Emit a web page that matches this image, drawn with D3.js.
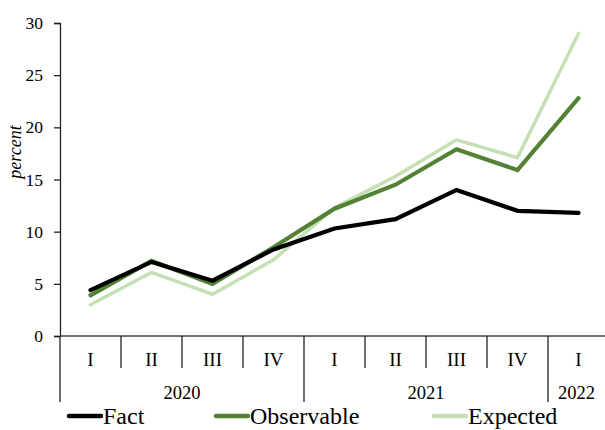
<!DOCTYPE html>
<html><head><meta charset="utf-8">
<script src="https://cdn.jsdelivr.net/npm/d3@7"></script>
<style>
html,body{margin:0;padding:0;background:#fff;}
svg{display:block;}
</style></head>
<body><svg id="c" width="605" height="430"></svg>
<script>
const quarters = ["I","II","III","IV","I","II","III","IV","I"];
const years = [{label:"2020",start:0,end:4},{label:"2021",start:4,end:8},{label:"2022",start:8,end:9}];
const fact = [4.4, 7.1, 5.3, 8.3, 10.3, 11.2, 14.0, 12.0, 11.8];
const observable = [3.9, 7.2, 5.0, 8.5, 12.2, 14.5, 17.9, 15.9, 22.8];
const expected = [3.0, 6.1, 4.0, 7.3, 12.3, 15.3, 18.8, 17.1, 29.0];
const yTicks = [0,5,10,15,20,25,30];
const seriesNames = ["Fact","Observable","Expected"];
const colors = ["#000000","#548235","#c5e0b4"];

(function(){
const FF = "Liberation Serif";
const svg = d3.select("#c").attr("font-family", FF);
const mLeft = 60, mRight = 609, mTop = 23, mBottom = 336;
const x = d3.scaleBand().domain(d3.range(quarters.length)).range([mLeft, mRight]).padding(0);
const y = d3.scaleLinear().domain([0,30]).range([mBottom, mTop]);

const ya = svg.append("g").attr("transform",`translate(${mLeft},0)`)
  .call(d3.axisLeft(y).tickValues(yTicks).tickSize(6).tickPadding(11));
ya.attr("font-family", FF);
ya.select(".domain").attr("stroke","#222").attr("stroke-width",1.3);
ya.selectAll(".tick line").attr("stroke","#222").attr("stroke-width",1.3);
ya.selectAll("text").attr("font-size",17.5).attr("font-family",FF).attr("fill","#000");

svg.append("text").attr("transform",`translate(21,152) rotate(-90)`).attr("font-family",FF)
  .attr("text-anchor","middle").attr("font-size",18).attr("font-style","italic").text("percent");

svg.append("line").attr("x1",mLeft).attr("x2",605).attr("y1",mBottom).attr("y2",mBottom)
  .attr("stroke","#444").attr("stroke-width",1.5);
svg.append("line").attr("x1",mLeft).attr("x2",mLeft).attr("y1",mBottom).attr("y2",402).attr("stroke","#222").attr("stroke-width",1.3);

const yearStarts = years.map(d=>d.start);
d3.range(1, quarters.length).forEach(i=>{
  const xx = x(i);
  const isYear = yearStarts.includes(i);
  svg.append("line").attr("x1",xx).attr("x2",xx).attr("y1",mBottom).attr("y2",isYear?402:368)
    .attr("stroke","#222").attr("stroke-width",1.3);
});

svg.append("g").selectAll("text").data(quarters).join("text").attr("font-family",FF)
  .attr("x",(d,i)=>x(i)+x.bandwidth()/2).attr("y",366).attr("text-anchor","middle")
  .attr("font-size",19).text(d=>d);

svg.append("g").selectAll("text").data(years).join("text").attr("font-family",FF)
  .attr("x",d=> d.end<quarters.length ? (x(d.start)+x(d.end))/2 : (x(d.start)+605)/2)
  .attr("y",399).attr("text-anchor","middle").attr("font-size",18.5).text(d=>d.label);

const line = d3.line().x((d,i)=>x(i)+x.bandwidth()/2).y(d=>y(d));
const data = [fact, observable, expected];
const widths = [4.2, 4.2, 3.5];
[2,1,0].forEach(k=>{
  svg.append("path").datum(data[k]).attr("d",line).attr("fill","none")
    .attr("stroke",colors[k]).attr("stroke-width",widths[k]).attr("stroke-linecap","round").attr("stroke-linejoin","miter");
});

const legX = [69, 216, 434];
seriesNames.forEach((n,k)=>{
  svg.append("line").attr("x1",legX[k]).attr("x2",legX[k]+32).attr("y1",416).attr("y2",416)
    .attr("stroke",colors[k]).attr("stroke-width",4.5).attr("stroke-linecap","round");
  svg.append("text").attr("font-family",FF).attr("x",legX[k]+34).attr("y",423.5).attr("font-size",24).text(n);
});
})();
</script></body></html>
